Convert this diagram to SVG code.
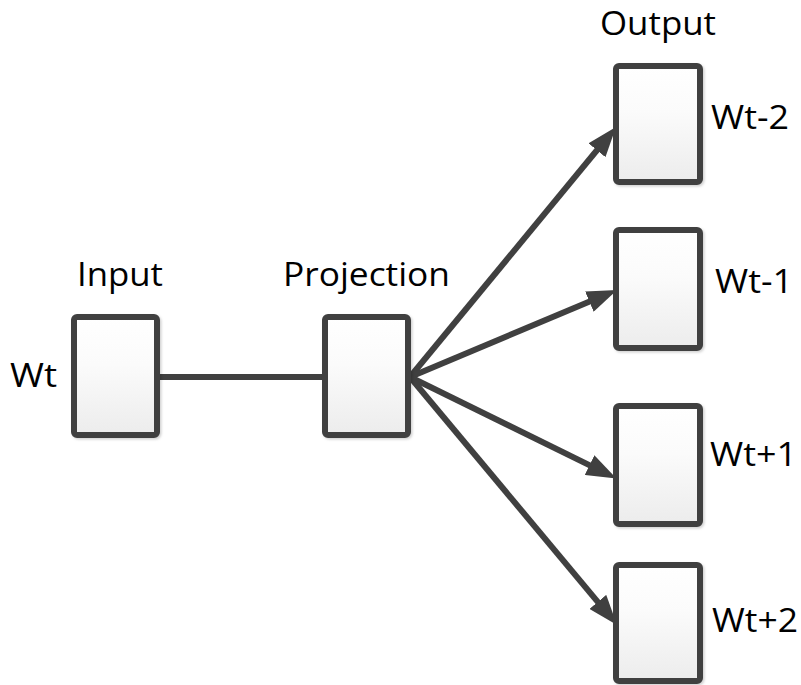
<svg xmlns="http://www.w3.org/2000/svg" width="801" height="685" viewBox="0 0 801 685">
<defs>
<linearGradient id="g" x1="0" y1="0" x2="0" y2="1">
<stop offset="0" stop-color="#ffffff"/>
<stop offset="0.4" stop-color="#fbfbfb"/>
<stop offset="1" stop-color="#ececec"/>
</linearGradient>
<marker id="ah" markerUnits="userSpaceOnUse" markerWidth="30" markerHeight="22" refX="10" refY="11" orient="auto" viewBox="0 0 30 22">
<path d="M0,0 L30,11 L0,22 z" fill="#404040"/>
</marker>
<filter id="sh" x="-10%" y="-10%" width="130%" height="130%">
<feDropShadow dx="1.5" dy="1.5" stdDeviation="1.2" flood-color="#000" flood-opacity="0.18"/>
</filter>
</defs>
<style>
.box{fill:url(#g);stroke:#404040;stroke-width:6;filter:url(#sh)}
.lbl{font-family:"Open Sans","Liberation Sans",sans-serif;font-size:33px;fill:#000}
.con{stroke:#404040;stroke-width:6;fill:none}
</style>
<rect width="801" height="685" fill="#fff"/>
<g id="connectors">
<line class="con" x1="157" y1="377" x2="325" y2="377"/>
<line class="con" x1="410" y1="377" x2="603.3" y2="142.5" marker-end="url(#ah)"/>
<line class="con" x1="410" y1="377" x2="598.6" y2="297.8" marker-end="url(#ah)"/>
<line class="con" x1="410" y1="377" x2="598.5" y2="469.6" marker-end="url(#ah)"/>
<line class="con" x1="410" y1="377" x2="604.2" y2="609.6" marker-end="url(#ah)"/>
</g>
<g id="input">
<rect class="box" x="74" y="317" width="83" height="118" rx="3"/>
<text class="lbl" x="77" y="286" textLength="86" lengthAdjust="spacingAndGlyphs">Input</text>
<text class="lbl" x="10" y="387" textLength="47" lengthAdjust="spacingAndGlyphs">Wt</text>
</g>
<g id="projection">
<rect class="box" x="325" y="317" width="83" height="118" rx="3"/>
<text class="lbl" x="283" y="286" textLength="167" lengthAdjust="spacingAndGlyphs">Projection</text>
</g>
<g id="output-label">
<text class="lbl" x="600" y="35" textLength="116" lengthAdjust="spacingAndGlyphs">Output</text>
</g>
<g id="out-wt-2">
<rect class="box" x="616" y="66" width="84" height="116" rx="3"/>
<text class="lbl" x="711" y="129" textLength="78" lengthAdjust="spacingAndGlyphs">Wt-2</text>
</g>
<g id="out-wt-1">
<rect class="box" x="616" y="230" width="84" height="118" rx="3"/>
<text class="lbl" x="715" y="293" textLength="78" lengthAdjust="spacingAndGlyphs">Wt-1</text>
</g>
<g id="out-wt+1">
<rect class="box" x="616" y="406" width="84" height="118" rx="3"/>
<text class="lbl" x="710" y="466" textLength="87" lengthAdjust="spacingAndGlyphs">Wt+1</text>
</g>
<g id="out-wt+2">
<rect class="box" x="616" y="565" width="84" height="116" rx="3"/>
<text class="lbl" x="712" y="632" textLength="86" lengthAdjust="spacingAndGlyphs">Wt+2</text>
</g>
</svg>
